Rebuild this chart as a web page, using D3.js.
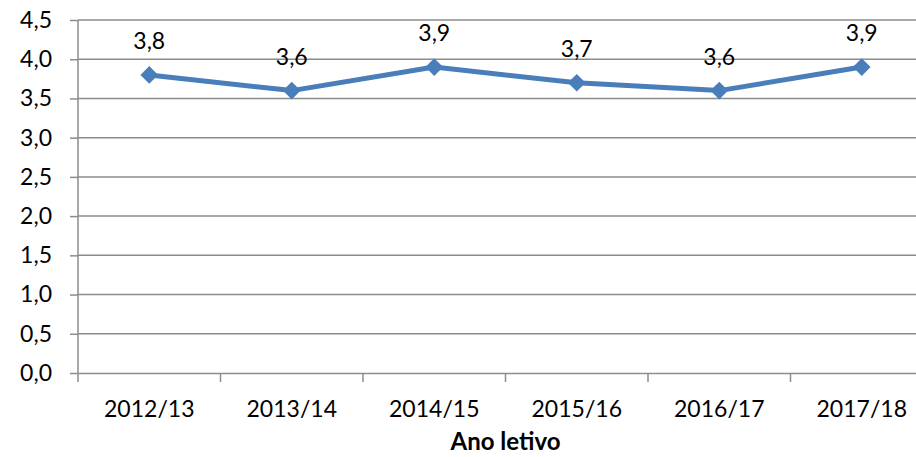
<!DOCTYPE html>
<html><head><meta charset="utf-8">
<script src="https://cdn.jsdelivr.net/npm/d3@7/dist/d3.min.js"></script>
<style>body{margin:0;background:#fff;}svg{display:block;font-family:Lato,"Open Sans",sans-serif;}</style>
</head><body>
<script>
const categories = ["2012/13","2013/14","2014/15","2015/16","2016/17","2017/18"];
const values = [3.8,3.6,3.9,3.7,3.6,3.9];
const yTicks = [0,0.5,1,1.5,2,2.5,3,3.5,4,4.5];
const xTitle = "Ano letivo";

const W=916,H=457;
const mLeft=78, mRight=933, mTop=20, mBottom=373;
const svg=d3.select("body").append("svg").attr("width",W).attr("height",H);
const x=d3.scaleBand().domain(categories).range([mLeft,mRight]);
const y=d3.scaleLinear().domain([0,4.5]).range([mBottom,mTop]);
const fmt=d=>d.toFixed(1).replace(".",",");
const fs=23;

// gridlines
svg.append("g").selectAll("line").data(yTicks.filter(d=>d>0)).join("line")
  .attr("x1",mLeft).attr("x2",mRight).attr("y1",d=>y(d)).attr("y2",d=>y(d))
  .attr("stroke","#8c8c8c").attr("stroke-width",1.5);

// y axis
const ya=svg.append("g").attr("transform",`translate(${mLeft},0)`)
  .call(d3.axisLeft(y).tickValues(yTicks).tickFormat(fmt).tickSize(8).tickPadding(18));
ya.select(".domain").attr("stroke","#8c8c8c").attr("stroke-width",1.5).attr("d",`M0,${mBottom}V${mTop}`);
ya.selectAll(".tick line").attr("stroke","#8c8c8c").attr("stroke-width",1.5);
ya.selectAll("text").attr("font-size",fs).attr("fill","#000").attr("font-family","Lato");

// x axis
const xa=svg.append("g").attr("transform",`translate(0,${mBottom})`)
  .call(d3.axisBottom(x).tickSize(0).tickPadding(28));
xa.select(".domain").attr("stroke","#8c8c8c").attr("stroke-width",1.5);
xa.selectAll("text").attr("font-size",fs).attr("fill","#000").attr("font-family","Lato");
// category separators
svg.append("g").selectAll("line").data(categories).join("line")
  .attr("x1",d=>x(d)).attr("x2",d=>x(d)).attr("y1",mBottom).attr("y2",mBottom+9)
  .attr("stroke","#8c8c8c").attr("stroke-width",1.5);

// title
svg.append("text").attr("x",(mLeft+mRight)/2).attr("y",450).attr("text-anchor","middle")
  .attr("font-size",24).attr("font-weight","bold").attr("font-family","Lato").text(xTitle);

const cx=d=>x(d)+x.bandwidth()/2;
const data=categories.map((c,i)=>({c,v:values[i]}));
svg.append("path").datum(data)
  .attr("d",d3.line().x(d=>cx(d.c)).y(d=>y(d.v)))
  .attr("fill","none").attr("stroke","#4a7ebb").attr("stroke-width",5).attr("stroke-linejoin","round");
svg.append("g").selectAll("path").data(data).join("path")
  .attr("d",d3.symbol(d3.symbolDiamond2,200)())
  .attr("transform",d=>`translate(${cx(d.c)},${y(d.v)})`)
  .attr("fill","#4a7ebb");
svg.append("g").selectAll("text").data(data).join("text")
  .attr("x",d=>cx(d.c)).attr("y",d=>y(d.v)-26).attr("text-anchor","middle")
  .attr("font-size",fs).attr("font-family","Lato").text(d=>fmt(d.v));
</script>
</body></html>
